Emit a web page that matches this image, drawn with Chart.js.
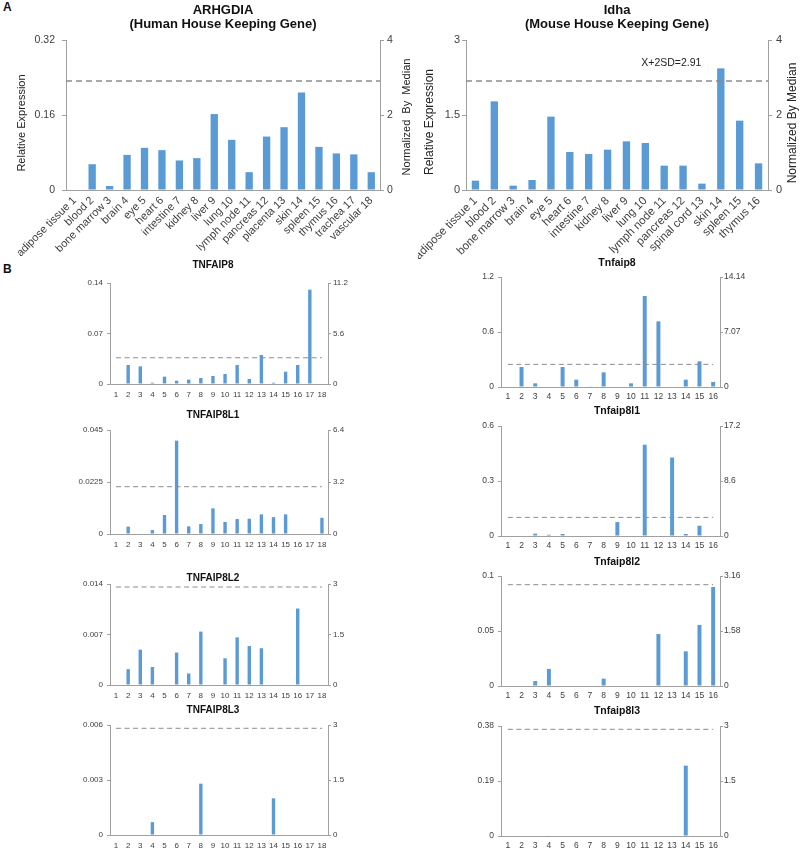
<!DOCTYPE html>
<html>
<head>
<meta charset="utf-8">
<script src="https://cdn.jsdelivr.net/npm/chart.js@4.4.0/dist/chart.umd.min.js"></script>
<style>
  body { margin: 0; background: #fff; }
  #fig { position: relative; width: 800px; height: 850px; overflow: hidden; font-family: 'Liberation Sans', Arial, sans-serif; }
  #fig canvas { position: absolute; }
  .panel { position: absolute; font-weight: bold; font-size: 12px; line-height: 1; color: #111; }
</style>
</head>
<body>
<div id="fig">
  <div class="panel" style="left:3px; top:1px;">A</div>
  <div class="panel" style="left:3px; top:263px;">B</div>
</div>
<script>
/* Expression of housekeeping genes and TNFAIP8 family across tissues */

const BAR = '#5b9bd5';
const AXIS = '#a0a0a0';
const TEXT = '#404040';
const DASH = '#8c8c8c';
const FONT = "'Liberation Sans', Arial, sans-serif";

// ─── categories ───
const humanTissues = ['adipose tissue 1', 'blood 2', 'bone marrow 3', 'brain 4', 'eye 5', 'heart 6',
  'intestine 7', 'kidney 8', 'liver 9', 'lung 10', 'lymph node 11', 'pancreas 12', 'placenta 13',
  'skin 14', 'spleen 15', 'thymus 16', 'trachea 17', 'vascular 18'];
const mouseTissues = ['adipose tissue 1', 'blood 2', 'bone marrow 3', 'brain 4', 'eye 5', 'heart 6',
  'intestine 7', 'kidney 8', 'liver 9', 'lung 10', 'lymph node 11', 'pancreas 12', 'spinal cord 13',
  'skin 14', 'spleen 15', 'thymus 16'];
const humanIdx = ['1', '2', '3', '4', '5', '6', '7', '8', '9', '10', '11', '12', '13', '14', '15', '16', '17', '18'];
const mouseIdx = ['1', '2', '3', '4', '5', '6', '7', '8', '9', '10', '11', '12', '13', '14', '15', '16'];

// X+2SD threshold, on the "normalized by median" axis
const CUTOFF = 2.91;

// ─── A: housekeeping genes ───
const arhgdiaValues = [0, 0.055, 0.0085, 0.075, 0.09, 0.085, 0.063, 0.068, 0.162, 0.107, 0.038, 0.114, 0.134, 0.208, 0.092, 0.078, 0.076, 0.038];
const idhaValues = [0.187, 1.773, 0.087, 0.2, 1.467, 0.76, 0.72, 0.807, 0.973, 0.94, 0.487, 0.487, 0.127, 2.433, 1.387, 0.533];

// ─── B: human TNFAIP8 family ───
const tnfaip8Values   = [0, 0.0263, 0.0245, 0.0018, 0.0102, 0.0046, 0.006, 0.0083, 0.0111, 0.0139, 0.0263, 0.0069, 0.0402, 0.0018, 0.0171, 0.0263, 0.1308, 0];
const tnfaip8l1Values = [0, 0.0032, 0, 0.0017, 0.0082, 0.0404, 0.0033, 0.0043, 0.0111, 0.0052, 0.0065, 0.0066, 0.0085, 0.0073, 0.0085, 0, 0, 0.007];
const tnfaip8l2Values = [0, 0.0022, 0.0049, 0.0025, 0, 0.0045, 0.0016, 0.0074, 0, 0.0037, 0.0066, 0.0054, 0.0051, 0, 0, 0.0106, 0, 0];
const tnfaip8l3Values = [0, 0, 0, 0.0007, 0, 0, 0, 0.0028, 0, 0, 0, 0, 0, 0.002, 0, 0, 0, 0];

// ─── B: mouse Tnfaip8 family ───
const mTnfaip8Values   = [0, 0.218, 0.04, 0, 0.218, 0.08, 0.007, 0.16, 0, 0.04, 0.993, 0.716, 0, 0.08, 0.28, 0.055];
const mTnfaip8l1Values = [0, 0, 0.0127, 0.007, 0.011, 0, 0, 0, 0.076, 0, 0.498, 0, 0.428, 0.011, 0.056, 0];
const mTnfaip8l2Values = [0, 0, 0.0045, 0.0155, 0, 0, 0, 0.0067, 0, 0, 0, 0.0473, 0, 0.0315, 0.0555, 0.09];
const mTnfaip8l3Values = [0, 0, 0, 0.002, 0, 0, 0, 0, 0, 0, 0, 0, 0, 0.243, 0, 0];

// ─── axis ticks (relative expression / normalized by median) ───
const arhgdiaTicks = [0, 0.16, 0.32],      arhgdiaNorm = [0, 2, 4];
const idhaTicks = [0, 1.5, 3],             idhaNorm = [0, 2, 4];
const tnfaip8Ticks = [0, 0.07, 0.14],      tnfaip8Norm = [0, 5.6, 11.2];
const tnfaip8l1Ticks = [0, 0.0225, 0.045], tnfaip8l1Norm = [0, 3.2, 6.4];
const tnfaip8l2Ticks = [0, 0.007, 0.014],  tnfaip8l2Norm = [0, 1.5, 3];
const tnfaip8l3Ticks = [0, 0.003, 0.006],  tnfaip8l3Norm = [0, 1.5, 3];
const mTnfaip8Ticks = [0, 0.6, 1.2],       mTnfaip8Norm = [0, 7.07, 14.14];
const mTnfaip8l1Ticks = [0, 0.3, 0.6],     mTnfaip8l1Norm = [0, 8.6, 17.2];
const mTnfaip8l2Ticks = [0, 0.05, 0.1],    mTnfaip8l2Norm = [0, 1.58, 3.16];
const mTnfaip8l3Ticks = [0, 0.19, 0.38],   mTnfaip8l3Norm = [0, 1.5, 3];

Chart.defaults.font.family = FONT;

// dashed X+2SD line drawn on the right (normalized) axis
const cutoffLine = {
  id: 'cutoffLine',
  afterDatasetsDraw(chart, args, opts) {
    const {ctx, chartArea, scales} = chart;
    const y = scales.y1.getPixelForValue(opts.value);
    let x0 = chartArea.left, x1 = chartArea.right;
    if (!opts.full) {
      x0 = scales.x.getPixelForTick(0);
      x1 = scales.x.getPixelForTick(chart.data.labels.length - 1);
    }
    ctx.save();
    ctx.strokeStyle = DASH;
    ctx.lineWidth = opts.width;
    ctx.setLineDash(opts.dash);
    ctx.beginPath();
    ctx.moveTo(x0, y);
    ctx.lineTo(x1, y);
    ctx.stroke();
    if (opts.label) {
      ctx.fillStyle = '#222';
      ctx.font = opts.labelSize + 'px ' + FONT;
      ctx.textAlign = 'center';
      ctx.textBaseline = 'middle';
      ctx.fillText(opts.label, chartArea.left + chartArea.width * opts.labelAt, y - opts.labelGap);
    }
    ctx.restore();
  }
};

// both axis titles read bottom-to-top
const sideTitles = {
  id: 'sideTitles',
  afterDraw(chart, args, opts) {
    if (!opts.left && !opts.right) return;
    const {ctx, chartArea} = chart;
    const mid = (chartArea.top + chartArea.bottom) / 2;
    ctx.save();
    ctx.fillStyle = '#222';
    ctx.font = opts.size + 'px ' + FONT;
    ctx.textAlign = 'center';
    ctx.textBaseline = 'middle';
    [[opts.left, chartArea.left - opts.leftGap, opts.leftDy],
     [opts.right, chartArea.right + opts.rightGap, opts.rightDy]].forEach(([t, x, dy]) => {
      if (!t) return;
      ctx.save();
      ctx.translate(x, mid + dy);
      ctx.rotate(-Math.PI / 2);
      ctx.fillText(t, 0, 0);
      ctx.restore();
    });
    ctx.restore();
  }
};

const fig = document.getElementById('fig');

function valueAxis(pos, ticks, width, st) {
  return {
    position: pos,
    min: 0,
    max: ticks[ticks.length - 1],
    afterBuildTicks: sc => { sc.ticks = ticks.map(v => ({ value: v })); },
    afterFit: sc => { sc.width = width; sc.paddingTop = 0; sc.paddingBottom = 0; },
    grid: { drawOnChartArea: false, tickLength: st.tickLen, color: AXIS },
    border: { color: AXIS },
    ticks: { color: TEXT, font: { size: st.tickSize }, padding: pos === 'left' ? st.padL : st.padR, callback: v => String(v) }
  };
}

function buildChart(spec) {
  const g = spec.geo, st = spec.style;
  const lines = Array.isArray(spec.title) ? spec.title.length : 1;
  const lineH = st.titleSize * st.titleLH;
  const top = Math.round(g.titleC - lineH / 2);
  const w = g.x1 - g.x0, h = g.bottom - top;
  const padB = g.t - top - lines * lineH;

  const canvas = document.createElement('canvas');
  canvas.width = w; canvas.height = h;
  canvas.style.left = g.x0 + 'px';
  canvas.style.top = top + 'px';
  canvas.style.width = w + 'px';
  canvas.style.height = h + 'px';
  fig.appendChild(canvas);

  new Chart(canvas, {
    type: 'bar',
    data: {
      labels: spec.labels,
      datasets: [{
        data: spec.values,
        backgroundColor: BAR,
        barPercentage: st.bar,
        categoryPercentage: 1,
        yAxisID: 'y'
      }]
    },
    options: {
      responsive: false,
      animation: false,
      layout: { padding: 0, autoPadding: false },
      plugins: {
        legend: { display: false },
        tooltip: { enabled: false },
        title: {
          display: true,
          text: spec.title,
          fullSize: st.titleFull,
          color: '#111',
          font: { size: st.titleSize, weight: 'bold', lineHeight: st.titleLH },
          padding: { top: 0, bottom: padB }
        },
        cutoffLine: Object.assign({ value: CUTOFF }, st.cut, spec.cut || {}),
        sideTitles: spec.side || {}
      },
      scales: {
        x: {
          grid: { display: false, drawTicks: false },
          border: { color: AXIS },
          ticks: {
            color: TEXT, font: { size: st.catSize }, padding: st.catPad,
            autoSkip: false, maxRotation: st.rotate, minRotation: st.rotate
          },
          afterFit: sc => { sc.height = g.bottom - g.b; sc.paddingLeft = 0; sc.paddingRight = 0; }
        },
        y: valueAxis('left', spec.left, g.l - g.x0, st),
        y1: valueAxis('right', spec.right, g.x1 - g.r, st)
      }
    },
    plugins: [cutoffLine, sideTitles]
  });
}

// ─── styles ───
const styleA = {
  titleSize: 13, titleLH: 1.08, titleFull: false, tickSize: 10.5, catSize: 11, catPad: 4, rotate: 45,
  tickLen: 4, padL: 7, padR: 3, bar: 0.42,
  cut: { full: true, width: 1.5, dash: [6, 4] }
};
const styleA2 = Object.assign({}, styleA, { catSize: 11.5, tickSize: 11, padL: 2, padR: 4, bar: 0.39 });
const styleBL = {
  titleSize: 10, titleLH: 1.2, titleFull: true, tickSize: 8, catSize: 8, catPad: 6, rotate: 0,
  tickLen: 3, padL: 4, padR: 2, bar: 0.28,
  cut: { full: false, width: 1, dash: [5, 3.5] }
};
const styleBR = Object.assign({}, styleBL, { titleSize: 10.5, tickSize: 8.5, catSize: 8.5, catPad: 5, padR: 1, bar: 0.29 });

// ─── panel A ───
buildChart({
  labels: humanTissues, values: arhgdiaValues, left: arhgdiaTicks, right: arhgdiaNorm,
  title: ['ARHGDIA', '(Human House Keeping Gene)'], style: styleA,
  geo: { x0: 0, x1: 418, titleC: 10, bottom: 262, l: 66, r: 380, t: 40, b: 190 },
  side: { left: 'Relative Expression', right: 'Normalized  By  Median', size: 11, leftGap: 44, rightGap: 27, leftDy: 8, rightDy: 2 }
});
buildChart({
  labels: mouseTissues, values: idhaValues, left: idhaTicks, right: idhaNorm,
  title: ['Idha', '(Mouse House Keeping Gene)'], style: styleA2,
  geo: { x0: 418, x1: 800, titleC: 10, bottom: 262, l: 466, r: 768, t: 40, b: 190 },
  cut: { label: 'X+2SD=2.91', labelSize: 10.5, labelAt: 0.68, labelGap: 17.5 },
  side: { left: 'Relative Expression', right: 'Normalized By Median', size: 12, leftGap: 36, rightGap: 25, leftDy: 7, rightDy: 8 }
});

// ─── panel B, human (left column) ───
const humanRows = [
  ['TNFAIP8', tnfaip8Values, tnfaip8Ticks, tnfaip8Norm, { titleC: 265, t: 283, b: 384, bottom: 404 }],
  ['TNFAIP8L1', tnfaip8l1Values, tnfaip8l1Ticks, tnfaip8l1Norm, { titleC: 415, t: 430, b: 534, bottom: 554 }],
  ['TNFAIP8L2', tnfaip8l2Values, tnfaip8l2Ticks, tnfaip8l2Norm, { titleC: 578, t: 584, b: 685, bottom: 705 }],
  ['TNFAIP8L3', tnfaip8l3Values, tnfaip8l3Ticks, tnfaip8l3Norm, { titleC: 710, t: 725, b: 835, bottom: 850 }]
];
humanRows.forEach(([title, values, left, right, rows]) => {
  buildChart({
    labels: humanIdx, values, left, right, title, style: styleBL,
    geo: Object.assign({ x0: 66, x1: 360, l: 110, r: 328 }, rows)
  });
});

// ─── panel B, mouse (right column) ───
const mouseRows = [
  ['Tnfaip8', mTnfaip8Values, mTnfaip8Ticks, mTnfaip8Norm, { titleC: 263, t: 277, b: 387, bottom: 407 }],
  ['Tnfaip8l1', mTnfaip8l1Values, mTnfaip8l1Ticks, mTnfaip8l1Norm, { titleC: 411, t: 426, b: 536, bottom: 556 }],
  ['Tnfaip8l2', mTnfaip8l2Values, mTnfaip8l2Ticks, mTnfaip8l2Norm, { titleC: 562, t: 576, b: 686, bottom: 706 }],
  ['Tnfaip8l3', mTnfaip8l3Values, mTnfaip8l3Ticks, mTnfaip8l3Norm, { titleC: 711, t: 726, b: 836, bottom: 850 }]
];
mouseRows.forEach(([title, values, left, right, rows]) => {
  buildChart({
    labels: mouseIdx, values, left, right, title, style: styleBR,
    geo: Object.assign({ x0: 474, x1: 760, l: 501, r: 720 }, rows)
  });
});
</script>
</body>
</html>
